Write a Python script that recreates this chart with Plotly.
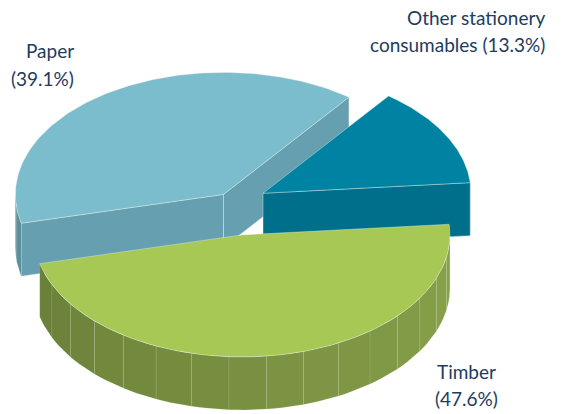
import numpy as np
import plotly.graph_objects as go

# ---- data ----
categories = ["Other stationery consumables", "Paper", "Timber"]
shares = [13.3, 39.1, 47.6]
label_heads = ["Other stationery", "Paper", "Timber"]
label_tails = ["consumables", "", ""]

# ---- styling / geometry of the tilted 3-D pie ----
W, H = 562, 414
CX, CY = 233, 203          # pie centre (plot units = pixels)
RX, RY = 208, 122          # ellipse radii of the top face
DEPTH = 53                 # wall height
START_DEG = 5              # first slice starts here, counter-clockwise
pulls = [0.165, 0.084, 0.265]
top_colors = ["#0082A2", "#7BBCCD", "#A8C856"]
face_colors = ["#006F8B", "#66A0B0", "#6E843C"]
wall_dark = ["#005F78", "#5A8E9D", "#687D38"]
wall_light = ["#00708C", "#5A8E9D", "#89A34B"]
EDGE = dict(color="rgba(235,245,235,0.55)", width=0.7)
FACET = dict(color="rgba(205,220,175,0.28)", width=0.5)
TEXT_COLOR = "#1D3C5E"
FONT = "Lato"
FS = 19

total = sum(shares)
bounds = np.concatenate([[0], np.cumsum(shares)]) / total * 360 + START_DEG


def rim(cx, cy, deg, dz=0.0):
    t = np.radians(deg)
    return cx + RX * np.cos(t), cy - RY * np.sin(t) + dz


fig = go.Figure()


def poly(xs, ys, color, line=EDGE, hover=None):
    fig.add_trace(go.Scatter(
        x=list(xs) + [xs[0]], y=list(ys) + [ys[0]], mode="lines",
        fill="toself", fillcolor=color, line=line,
        hoverinfo="text" if hover else "skip", text=hover,
        hoveron="fills", showlegend=False))


def mix(c1, c2, f):
    a = [int(c1[i:i + 2], 16) for i in (1, 3, 5)]
    b = [int(c2[i:i + 2], 16) for i in (1, 3, 5)]
    return "#" + "".join(f"{round(a[k] + (b[k] - a[k]) * f):02x}" for k in range(3))


# back-most slices first
mids = [(bounds[i] + bounds[i + 1]) / 2 for i in range(len(shares))]
order = sorted(range(len(shares)), key=lambda i: -np.sin(np.radians(mids[i])))

for i in order:
    a0, a1 = bounds[i], bounds[i + 1]
    m = np.radians(mids[i])
    cx = CX + RX * pulls[i] * np.cos(m)
    cy = CY - RY * pulls[i] * np.sin(m)

    # cut faces along the two radii
    for edge, normal in ((a0, a0 - 90), (a1, a1 + 90)):
        if np.sin(np.radians(normal)) < 0:
            ex, ey = rim(cx, cy, edge)
            poly([cx, ex, ex, cx], [cy, ey, ey + DEPTH, cy + DEPTH], face_colors[i])

    # curved outer wall, only the part facing the viewer
    for k in range(-1, 3):
        lo, hi = max(a0, 180 + 360 * k), min(a1, 360 + 360 * k)
        if hi <= lo:
            continue
        nfac = max(1, int(np.ceil((hi - lo) / 11)))
        steps = np.linspace(lo, hi, nfac + 1)
        for j in range(nfac):
            ang = np.linspace(steps[j], steps[j + 1], 6)
            tx, ty = rim(cx, cy, ang)
            f = ((steps[j] + steps[j + 1]) / 2 - 360 * k - 180) / 180
            col = mix(wall_dark[i], wall_light[i], f)
            poly(np.concatenate([tx, tx[::-1]]),
                 np.concatenate([ty, (ty + DEPTH)[::-1]]), col, line=FACET)

    # top face
    ang = np.linspace(a0, a1, 120)
    tx, ty = rim(cx, cy, ang)
    poly(np.concatenate([[cx], tx]), np.concatenate([[cy], ty]), top_colors[i],
         hover=f"{categories[i]}: {shares[i]:.1f}%")

# ---- labels ----
def label(x, baseline, text, anchor):
    fig.add_annotation(x=x, y=baseline - 0.33 * FS, text=text, showarrow=False,
                       xanchor=anchor, yanchor="middle",
                       font=dict(family=FONT, size=FS, color=TEXT_COLOR))

label(547, 24, label_heads[0], "right")
label(547, 51, f"{label_tails[0]} ({shares[0]:.1f}%)", "right")
label(76, 57, label_heads[1], "right")
label(76, 85, f"({shares[1]:.1f}%)", "right")
label(466, 378, label_heads[2], "center")
label(466, 405, f"({shares[2]:.1f}%)", "center")

fig.update_layout(
    width=W, height=H, margin=dict(l=0, r=0, t=0, b=0),
    paper_bgcolor="white", plot_bgcolor="white", showlegend=False,
    xaxis=dict(range=[0, W], visible=False, fixedrange=True),
    yaxis=dict(range=[H, 0], visible=False, fixedrange=True),
)

fig.write_html("out.html")
